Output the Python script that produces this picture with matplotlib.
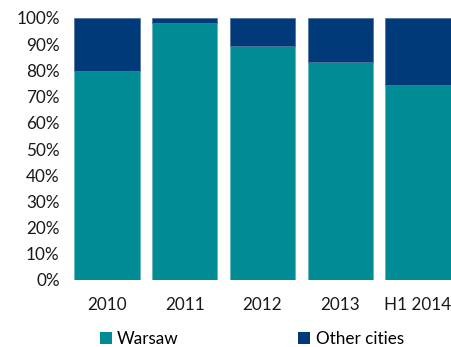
import matplotlib
matplotlib.use("Agg")
import matplotlib.pyplot as plt
from matplotlib.patches import Patch
from matplotlib.ticker import PercentFormatter

categories = ["2010", "2011", "2012", "2013", "H1 2014"]
warsaw = [79.6, 98.1, 89.2, 83.2, 74.4]
other_cities = [100 - w for w in warsaw]

teal = "#008B95"
navy = "#003A78"

plt.rcParams["font.family"] = ["Lato", "DejaVu Sans"]

fig = plt.figure(figsize=(4.51, 3.47), dpi=100)
ax = fig.add_axes([68 / 451, 1 - 280 / 347, 1 - 68 / 451, (280 - 18) / 347])

x = range(len(categories))
ax.bar(x, warsaw, width=0.84, color=teal, edgecolor="#5fb3ba", linewidth=0.5)
ax.bar(x, other_cities, bottom=warsaw, width=0.84, color=navy,
       edgecolor="#4a6f9a", linewidth=0.5)

ax.set_xlim(-0.5, 4.424)
ax.set_ylim(0, 100)
ax.set_yticks(range(0, 101, 10))
ax.yaxis.set_major_formatter(PercentFormatter(decimals=0))
ax.set_xticks(list(x))
ax.set_xticklabels(categories)
ax.tick_params(axis="both", length=0, labelsize=12.3, colors="#1a1a1a")
ax.tick_params(axis="x", pad=12)
ax.tick_params(axis="y", pad=6)
for s in ax.spines.values():
    s.set_visible(False)

handles = [Patch(facecolor=teal, label="Warsaw"),
           Patch(facecolor=navy, label="Other cities")]
fig.legend(handles=handles, loc="center left", ncol=2, frameon=False,
           bbox_to_anchor=(100 / 451, 1 - 339 / 347), fontsize=12.3,
           handlelength=0.7, handleheight=0.7, handletextpad=0.3,
           columnspacing=7.0, borderaxespad=0, borderpad=0)

fig.savefig("out.png", dpi=100)
